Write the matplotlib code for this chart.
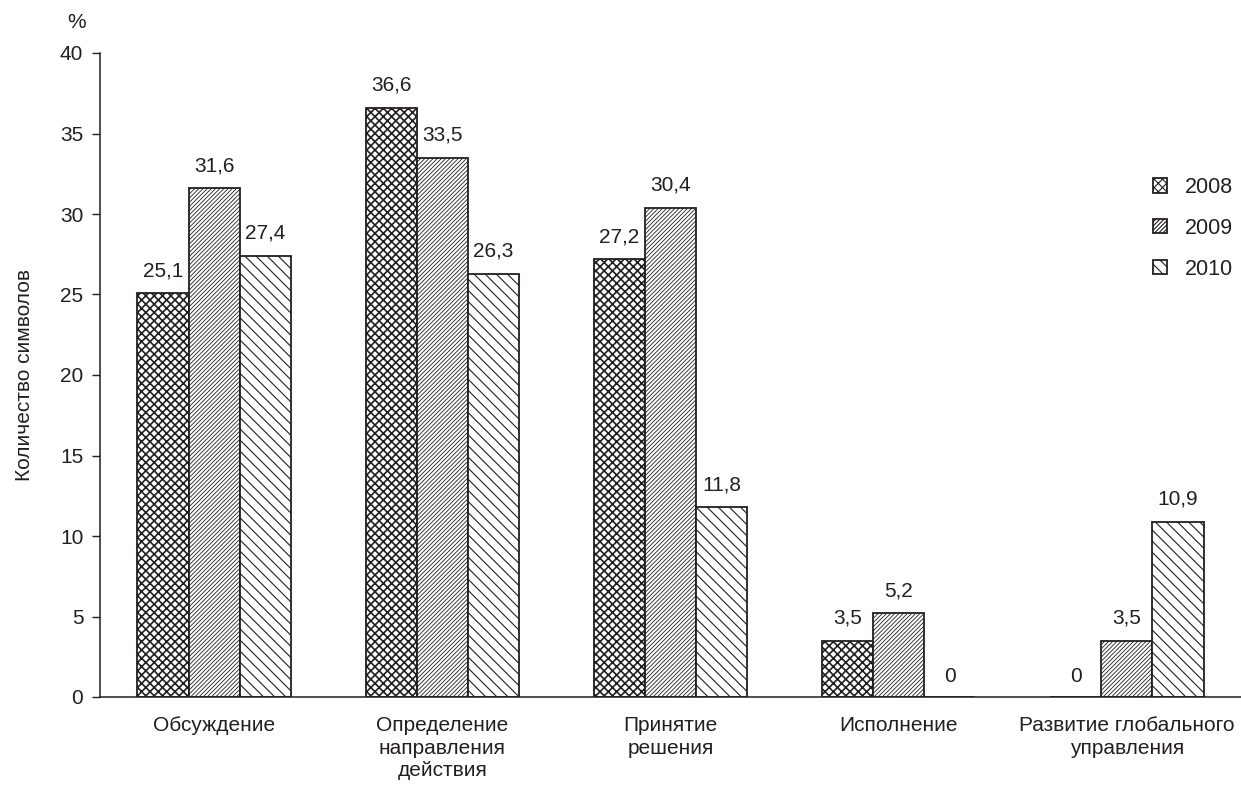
import matplotlib
matplotlib.use("Agg")
import matplotlib.pyplot as plt
import numpy as np

categories = ["Обсуждение", "Определение\nнаправления\nдействия", "Принятие\nрешения",
              "Исполнение", "Развитие глобального\nуправления"]
years = ["2008", "2009", "2010"]
v2008 = [25.1, 36.6, 27.2, 3.5, 0]
v2009 = [31.6, 33.5, 30.4, 5.2, 3.5]
v2010 = [27.4, 26.3, 11.8, 0, 10.9]
yticks = [0, 5, 10, 15, 20, 25, 30, 35, 40]

plt.rcParams['font.family'] = ['Liberation Sans', 'DejaVu Sans']
txt = '#231f20'
fs = 15

fig = plt.figure(figsize=(12.41, 7.86), dpi=100)
ax = fig.add_axes([100/1241, 1-697/786, 1-100/1241, (697-53)/786])

x = np.arange(len(categories))
w = 0.224
hatches = ['xxxx', '////////', '\\\\\\']
hatch_lw = [1.2, 0.6, 0.8]
series = [v2008, v2009, v2010]
for i, (vals, h, yr) in enumerate(zip(series, hatches, years)):
    plt.rcParams['hatch.linewidth'] = hatch_lw[i]
    pos = x + (i-1)*w
    ax.bar(pos, vals, w, facecolor='white', edgecolor='#231f20',
           hatch=h, linewidth=1.3, label=yr, zorder=2)
    for p, v in zip(pos, vals):
        lbl = ('%g' % v).replace('.', ',')
        if v == 0:
            ax.text(p, 1.3, lbl, ha='center', va='center', fontsize=fs, color=txt)
        else:
            ax.text(p, v + 0.8, lbl, ha='center', va='bottom', fontsize=fs, color=txt)

ax.set_xlim(-0.5, 4.5)
ax.set_ylim(0, 40)
ax.set_yticks(yticks)
ax.set_yticklabels([str(t) for t in yticks], fontsize=fs, color=txt)
ax.set_xticks(x)
ax.set_xticklabels(categories, fontsize=fs, color=txt, linespacing=1.22)
ax.tick_params(axis='x', length=0, pad=14)
ax.tick_params(axis='y', length=6, width=1, direction='out', pad=6, colors=txt)
for s in ['top', 'right']:
    ax.spines[s].set_visible(False)
for s in ['left', 'bottom']:
    ax.spines[s].set_color(txt)
    ax.spines[s].set_linewidth(1.1)
ax.spines['left'].set_bounds(0, 40)

ax.set_ylabel("Количество символов", fontsize=fs, color=txt, labelpad=19)
fig.text(77/1241, 1-23/786, "%", fontsize=fs, color=txt, ha='center', va='center')

leg = ax.legend(loc='upper left', bbox_to_anchor=((1153-100)/1141, 1-124/644), frameon=False,
                fontsize=15.5, handlelength=0.65, handleheight=0.65, handletextpad=0.85,
                labelspacing=0.92, borderaxespad=0, borderpad=0)
for t in leg.get_texts():
    t.set_color(txt)

fig.savefig("out.png", dpi=100)
